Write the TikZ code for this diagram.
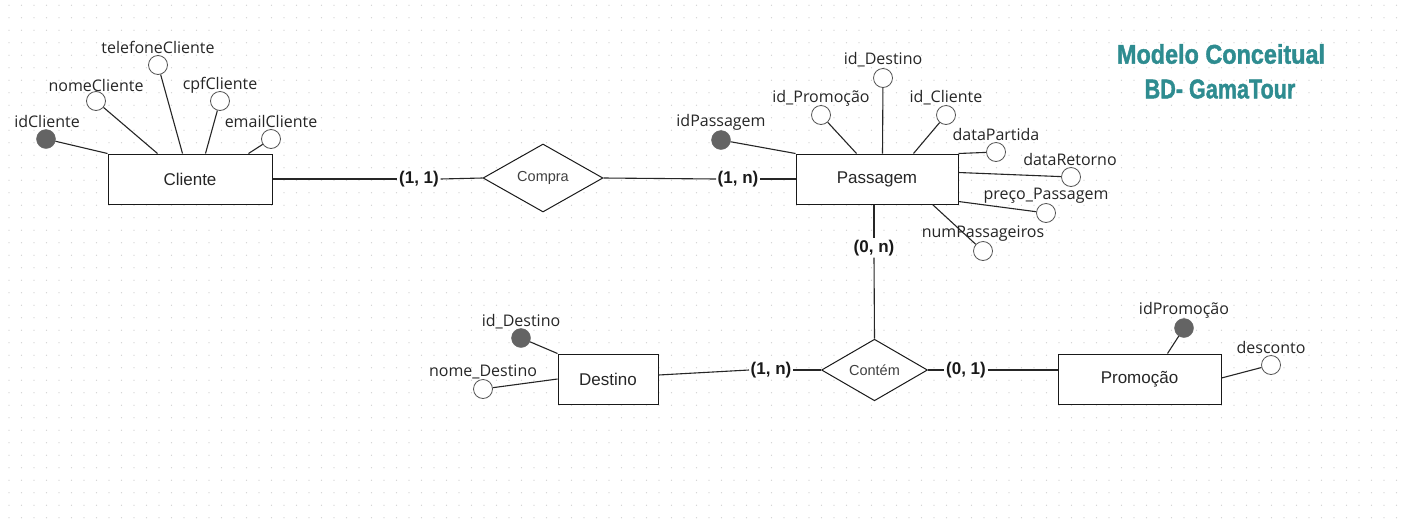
\documentclass[tikz,border=0pt]{standalone}
\usepackage{fontspec}
\setmainfont{Liberation Sans}
\newfontfamily\attrfont{Open Sans}
\newfontfamily\titlefont{Liberation Sans}[BoldFeatures={FakeBold=1.6}]
\usetikzlibrary{shapes.geometric}
\definecolor{teal1}{RGB}{46,140,144}
\definecolor{dotc}{RGB}{205,205,205}
\definecolor{fillc}{RGB}{100,100,100}
\definecolor{ringc}{RGB}{85,85,85}
\begin{document}
\begin{tikzpicture}[x=1pt,y=-1pt,
 entity/.style={draw=black!90, line width=1pt, fill=white, minimum height=50pt, inner sep=0pt, font=\fontsize{17}{20}\selectfont, text=black!85},
 rel/.style={diamond, draw=black!90, line width=1pt, fill=white, inner sep=0pt, font=\fontsize{14.5}{17}\selectfont, text=black!75},
 card/.style={fill=white, inner sep=1.5pt, font=\fontsize{17}{19}\selectfont\bfseries, text=black!90},
 attr/.style={circle, draw=ringc, line width=0.8pt, fill=white, minimum size=19pt, inner sep=0pt},
 keyattr/.style={circle, draw=fillc, fill=fillc, minimum size=19pt, inner sep=0pt},
 alabel/.style={inner sep=0pt, font=\attrfont\fontsize{16}{19}\selectfont, text=black!85},
 conn/.style={line width=1.1pt, draw=black!85},
 titletext/.style={inner sep=0pt, text=teal1, font=\titlefont\bfseries\fontsize{26}{30}\selectfont}
]
\useasboundingbox (0,0) rectangle (1408,520);
\fill[white] (0,0) rectangle (1408,520);
% dot grid
\foreach \i in {0,...,111}{\foreach \j in {0,...,41}{\fill[dotc] (9+12.5*\i,5.2+12.5*\j) circle (0.65);}}

% title
\node[titletext] (t1) at (1221,54) {\scalebox{0.9}[1.04]{Modelo Conceitual}};
\node[titletext] (t2) at (1220,89) {\scalebox{0.83}[1.04]{BD- GamaTour}};

% attribute labels
\node[alabel] (Lidc) at (47,121) {idCliente};
\node[alabel] (Lnome) at (96,85) {nomeCliente};
\node[alabel] (Ltel) at (158,47) {telefoneCliente};
\node[alabel] (Lcpf) at (220,85) {cpfCliente};
\node[alabel] (Lemail) at (271,121) {emailCliente};

\node[alabel] (Lidp) at (721,122) {idPassagem};
\node[alabel] (Lpromo) at (821,98) {id\_Promoção};
\node[alabel] (Ldest) at (883,60) {id\_Destino};
\node[alabel] (Lcli) at (946,98) {id\_Cliente};
\node[alabel] (Lpart) at (996,134) {dataPartida};
\node[alabel] (Lret) at (1070,159) {dataRetorno};
\node[alabel] (Lpreco) at (1046,196) {preço\_Passagem};
\node[alabel] (Lnum) at (983,234) {numPassageiros};

\node[alabel] (Liddes) at (521,322) {id\_Destino};
\node[alabel] (Lnomedes) at (483,372) {nome\_Destino};
\node[alabel] (Lidpro) at (1184,310) {idPromoção};
\node[alabel] (Ldesc) at (1271,347) {desconto};

% entities
\node[entity, minimum width=164pt] (cli) at (190,179) {Cliente};
\node[entity, minimum width=162pt] (pass) at (877,179) {Passagem};
\node[entity, minimum width=100pt] (des) at (608,379) {Destino};
\node[entity, minimum width=163pt] (pro) at (1139.5,379) {Promoção};

% relationships
\node[rel, minimum width=120pt, minimum height=68pt] (compra) at (543,178) {Compra};
\node[rel, minimum width=106pt, minimum height=56pt] (contem) at (874.5,370) {Contém};

% cardinalities
\node[card] (l11) at (419,179) {(1, 1)};
\node[card] (l1n) at (738,179) {(1, n)};
\node[card] (l0n) at (874,248) {(0, n)};
\node[card] (l1nb) at (771,370) {(1, n)};
\node[card] (l01) at (966,370) {(0, 1)};

% attribute circles
\node[keyattr] (idc) at (46,139) {};
\node[attr] (nome) at (96,101) {};
\node[attr] (tel) at (158,65) {};
\node[attr] (cpf) at (220,101) {};
\node[attr] (email) at (271,139) {};

\node[keyattr] (idp) at (721,140) {};
\node[attr] (promo) at (821,115) {};
\node[attr] (dest) at (883,78) {};
\node[attr] (clid) at (946,115) {};
\node[attr] (part) at (996,152) {};
\node[attr] (ret) at (1071,177) {};
\node[attr] (preco) at (1046,213) {};
\node[attr] (num) at (983,251) {};

\node[keyattr] (iddes) at (521,338) {};
\node[attr] (nomedes) at (483,389) {};
\node[keyattr] (idpro) at (1184,328) {};
\node[attr] (desc) at (1271,365) {};

% attribute connectors
\draw[conn] (idc) -- (cli.north west);
\draw[conn] (nome) -- ([xshift=50pt]cli.north west);
\draw[conn] (tel) -- ([xshift=75pt]cli.north west);
\draw[conn] (cpf) -- ([xshift=98pt]cli.north west);
\draw[conn] (email) -- ([xshift=141pt]cli.north west);

\draw[conn] (idp) -- (pass.north west);
\draw[conn] (promo) -- ([xshift=61pt]pass.north west);
\draw[conn] (dest) -- ([xshift=87pt]pass.north west);
\draw[conn] (clid) -- ([xshift=118pt]pass.north west);
\draw[conn] (pass.north east) -- (part);
\draw[conn] ([yshift=-19pt]pass.north east) -- (ret);
\draw[conn] ([yshift=3pt]pass.south east) -- (preco);
\draw[conn] ([xshift=-26pt]pass.south east) -- (num);

\draw[conn] (iddes) -- (des.north west);
\draw[conn] (nomedes) -- (des.west);
\draw[conn] (idpro) -- ([xshift=-54pt]pro.north east);
\draw[conn] (desc) -- ([yshift=1pt]pro.east);

% relationship connectors
\draw[conn] (cli.east) -- (l11.west);
\draw[conn] (l11.east) -- (compra.west);
\draw[conn] (compra.east) -- (l1n.west);
\draw[conn] (l1n.east) -- (pass.west);
\draw[conn] ([xshift=-3pt]pass.south) -- (l0n.north);
\draw[conn] (l0n.south) -- (contem.north);
\draw[conn] ([yshift=4pt]des.east) -- (l1nb.west);
\draw[conn] (l1nb.east) -- (contem.west);
\draw[conn] (contem.east) -- (l01.west);
\draw[conn] (l01.east) -- ([yshift=9pt]pro.west);
\end{tikzpicture}
\end{document}
